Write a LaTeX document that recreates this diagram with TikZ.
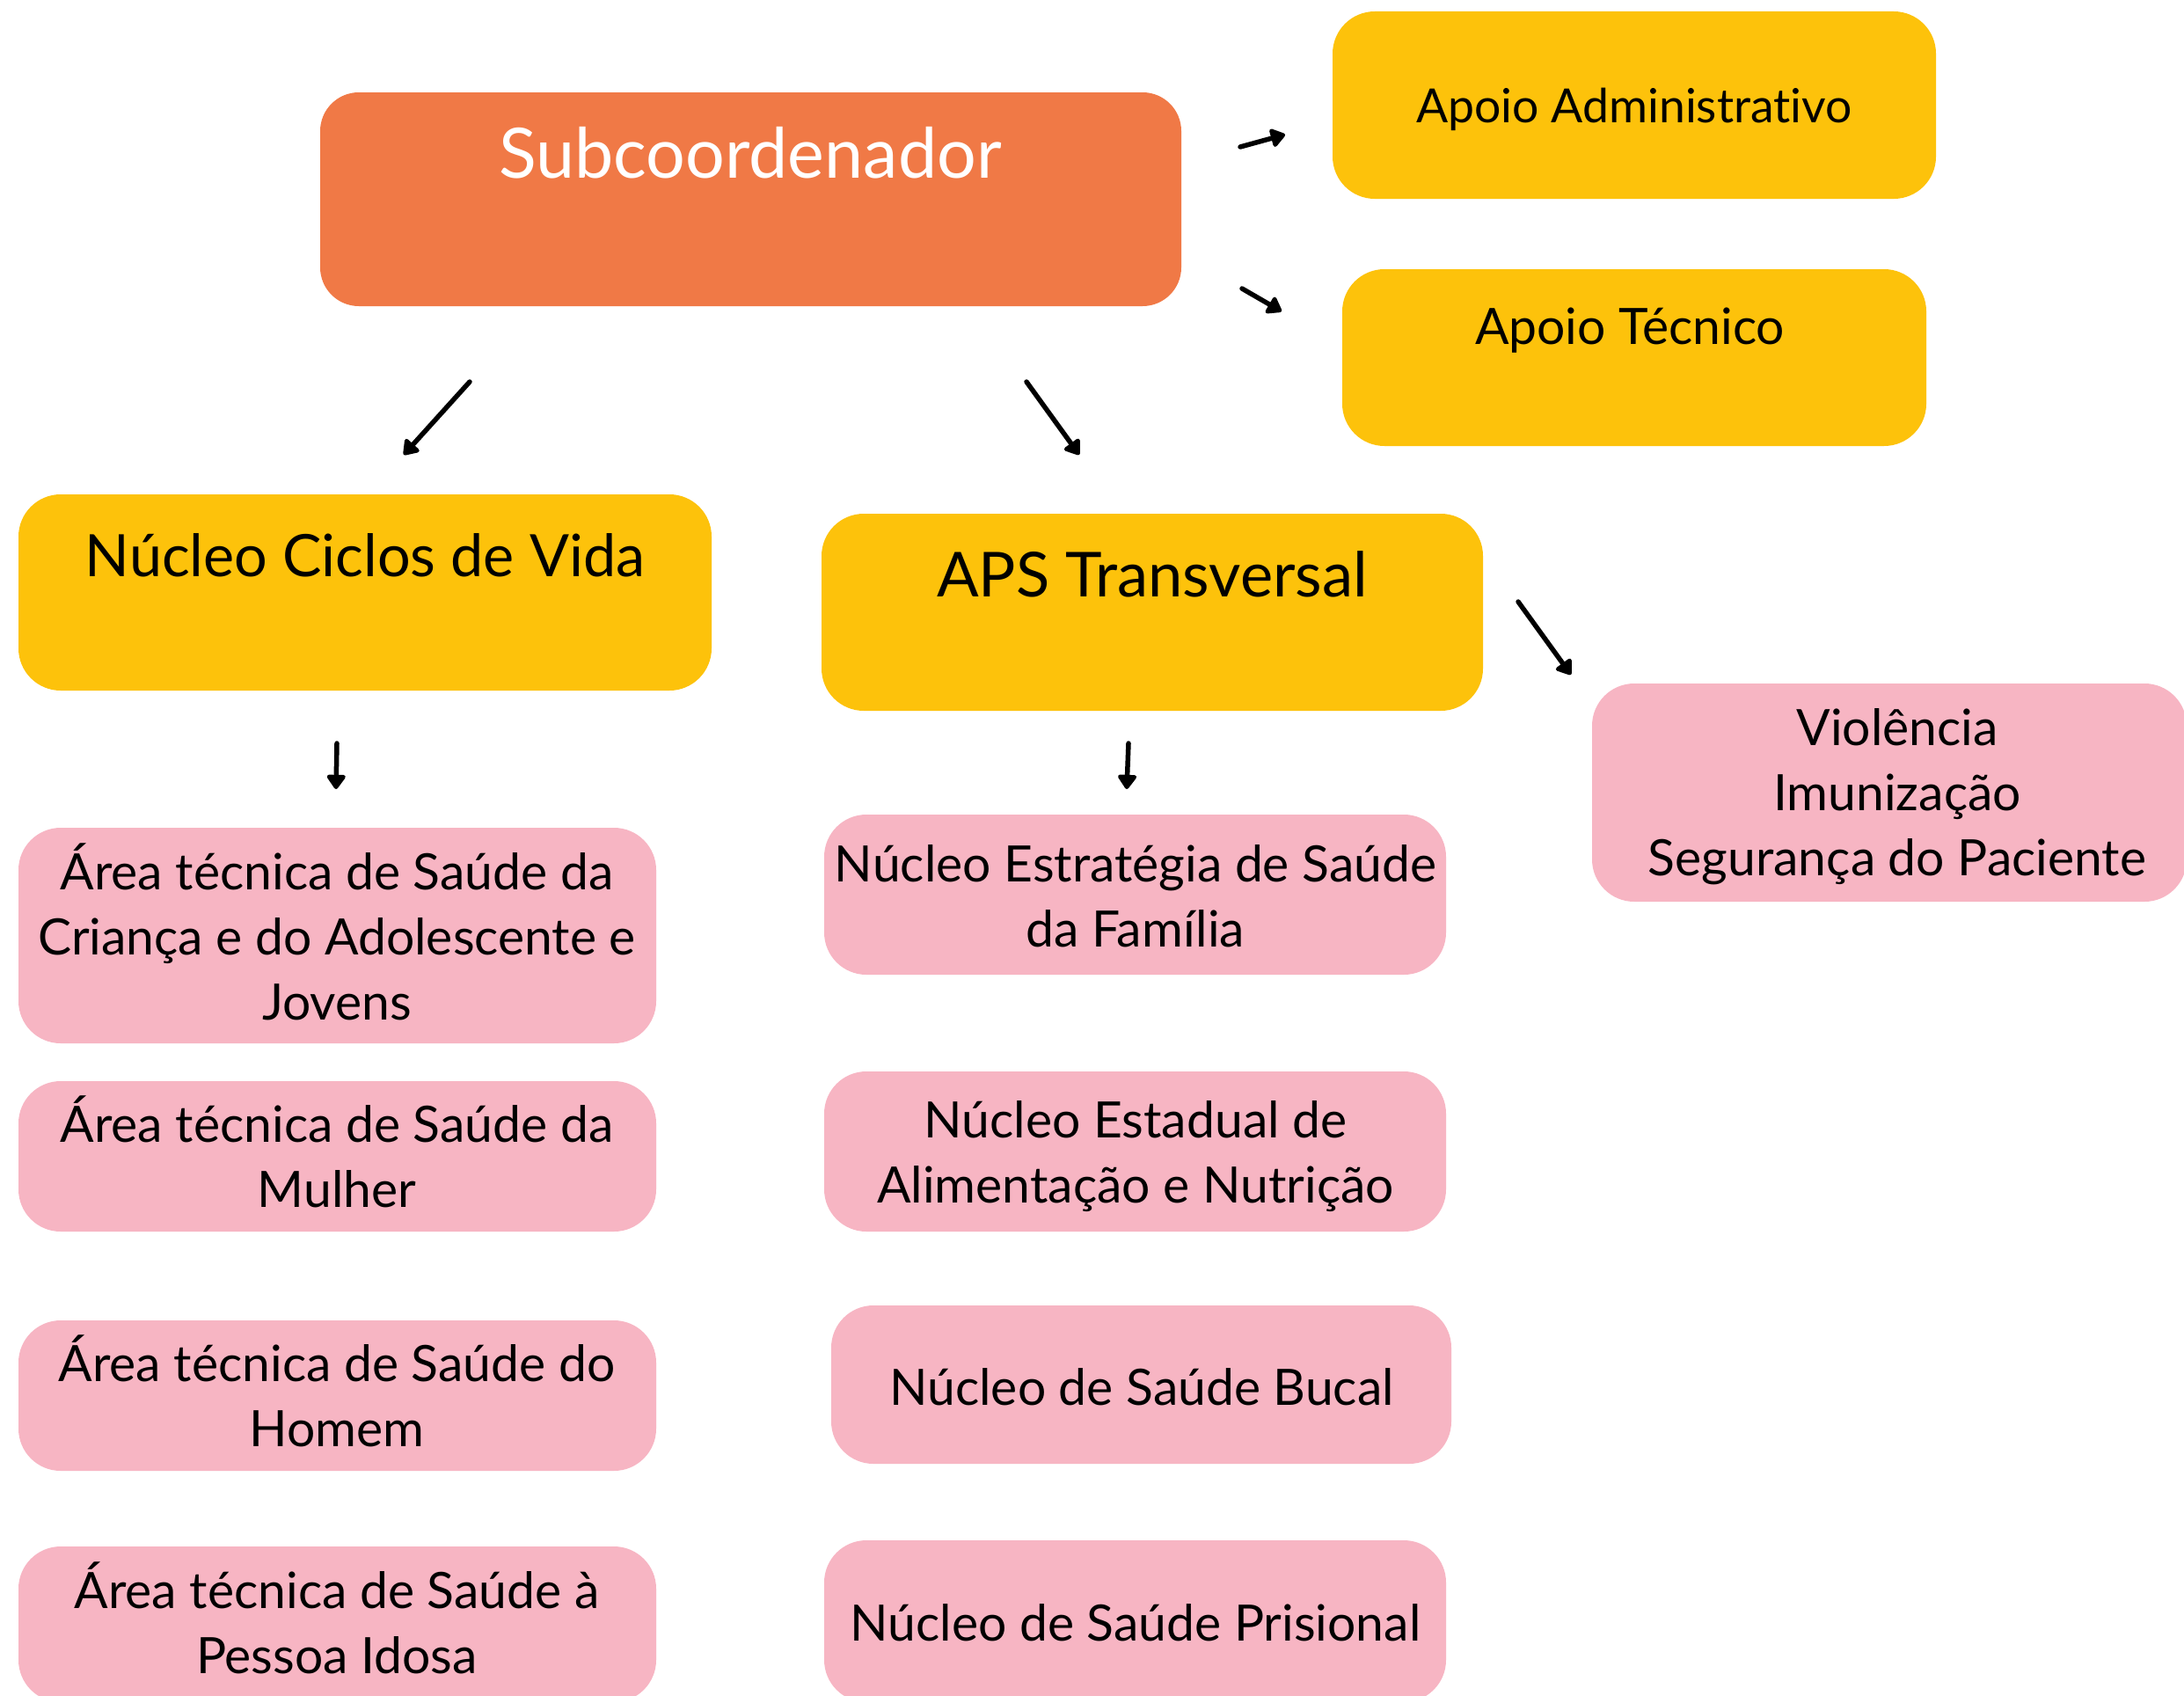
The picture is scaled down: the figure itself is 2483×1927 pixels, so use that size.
\documentclass[tikz,border=0pt]{standalone}
\usepackage{fontspec}
\setmainfont[Ligatures=NoCommon]{Lato}
\usetikzlibrary{arrows.meta}
\definecolor{orng}{HTML}{F07946}
\definecolor{yell}{HTML}{FDC20B}
\definecolor{pink}{HTML}{F7B5C3}
\tikzset{
  boxshape/.style={draw=none, rounded corners=48pt, inner sep=0pt},
  orangebox/.style={boxshape, fill=orng, rounded corners=44pt},
  yellowbox/.style={boxshape, fill=yell},
  pinkbox/.style={boxshape, fill=pink},
  bodytxt/.style={align=center, inner sep=0pt, font=\fontsize{57}{74}\selectfont, text=black},
  admtxt/.style={bodytxt, font=\fontsize{53.5}{74}\selectfont},
  bigtxt/.style={align=center, inner sep=0pt, font=\fontsize{66.5}{80}\selectfont, text=black},
  apstxt/.style={bigtxt, font=\fontsize{70.5}{80}\selectfont},
  subtxt/.style={align=center, inner sep=0pt, font=\fontsize{79}{96}\selectfont, text=white},
  arr/.style={line width=5.5pt, line cap=round, -{Triangle[length=18pt, width=24pt, round]}}
}
\begin{document}
\begin{tikzpicture}[x=1pt,y=-1pt]
\useasboundingbox (0,0) rectangle (2483,1927);
\fill[white] (0,0) rectangle (2483,1927);
% boxes
\node[orangebox, minimum width=979pt, minimum height=243pt] (sub) at (853.5,226.5) {};
\node[yellowbox, minimum width=686pt, minimum height=213pt] (adm) at (1858,119.5) {};
\node[yellowbox, minimum width=664pt, minimum height=201pt] (tec) at (1858,406.5) {};
\node[yellowbox, minimum width=788pt, minimum height=223pt] (ncv) at (415,673.5) {};
\node[yellowbox, minimum width=752pt, minimum height=224pt] (aps) at (1310,696) {};
\node[pinkbox, minimum width=676pt, minimum height=248pt] (vio) at (2148,901) {};
\node[pinkbox, minimum width=725pt, minimum height=245pt] (l1) at (383.5,1063.5) {};
\node[pinkbox, minimum width=725pt, minimum height=171pt] (l2) at (383.5,1314.5) {};
\node[pinkbox, minimum width=725pt, minimum height=171pt] (l3) at (383.5,1586.5) {};
\node[pinkbox, minimum width=725pt, minimum height=177pt] (l4) at (383.5,1846.5) {};
\node[pinkbox, minimum width=707pt, minimum height=182pt] (m1) at (1290.5,1017) {};
\node[pinkbox, minimum width=707pt, minimum height=182pt] (m2) at (1290.5,1309) {};
\node[pinkbox, minimum width=705pt, minimum height=180pt] (m3) at (1297.5,1574) {};
\node[pinkbox, minimum width=707pt, minimum height=184pt] (m4) at (1290.5,1843) {};
% texts
\node[subtxt] (tsub) at (853,174) {Subcoordenador};
\node[admtxt] (tadm) at (1858,124) {Apoio Administrativo};
\node[bodytxt] (ttec) at (1853,376) {Apoio Técnico};
\node[bigtxt] (tncv) at (415,631) {Núcleo Ciclos de Vida};
\node[apstxt] (taps) at (1310,653) {APS Transversal};
\node[bodytxt] (tvio) at (2157,906) {Violência\\Imunização\\Segurança do Paciente};
\node[bodytxt] (tl1) at (383,1059) {Área técnica de Saúde da\\Criança e do Adolescente e\\Jovens};
\node[bodytxt] (tl2) at (383,1309.5) {Área técnica de Saúde da\\Mulher};
\node[bodytxt] (tl3) at (383,1581.5) {Área técnica de Saúde do\\Homem};
\node[bodytxt] (tl4) at (383,1839) {Área técnica de Saúde à\\Pessoa Idosa};
\node[bodytxt] (tm1) at (1291,1019) {Núcleo Estratégia de Saúde\\da Família};
\node[bodytxt] (tm2) at (1291,1314.5) {Núcleo Estadual de\\Alimentação e Nutrição};
\node[bodytxt] (tm3) at (1298,1577) {Núcleo de Saúde Bucal};
\node[bodytxt] (tm4) at (1291,1845) {Núcleo de Saúde Prisional};
% arrow end points
\coordinate (a1s) at (1410,167); \coordinate (a1e) at (1461,153);
\coordinate (a2s) at (1412,328); \coordinate (a2e) at (1457,354);
\coordinate (a3s) at (534,434);  \coordinate (a3e) at (459,517);
\coordinate (a4s) at (1167,434); \coordinate (a4e) at (1227,517);
\coordinate (a5s) at (383,845);  \coordinate (a5e) at (382,897);
\coordinate (a6s) at (1283,845); \coordinate (a6e) at (1281,897);
\coordinate (a7s) at (1726,684); \coordinate (a7e) at (1786,767);
\draw[arr] (a1s) -- (a1e);
\draw[arr] (a2s) -- (a2e);
\draw[arr] (a3s) -- (a3e);
\draw[arr] (a4s) -- (a4e);
\draw[arr] (a5s) -- (a5e);
\draw[arr] (a6s) -- (a6e);
\draw[arr] (a7s) -- (a7e);
\end{tikzpicture}
\end{document}
